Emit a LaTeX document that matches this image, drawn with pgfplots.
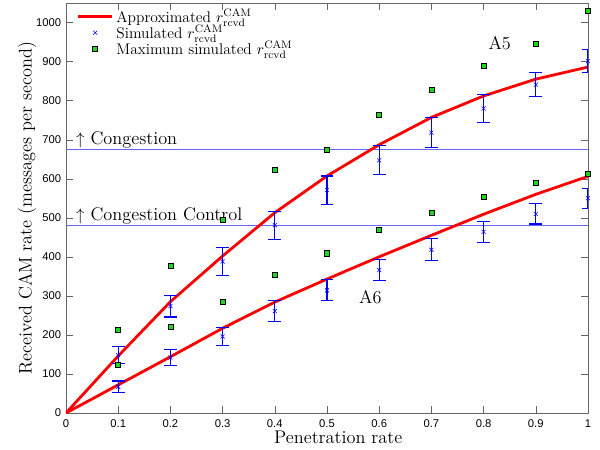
\documentclass[border=0pt]{standalone}
\usepackage{fontspec}
\setsansfont{Liberation Sans}
\usepackage{pgfplots}
\pgfplotsset{compat=1.18}
\usepackage{pgfplotstable}

\definecolor{redline}{rgb}{1,0,0}
\definecolor{markgreen}{rgb}{0.1,0.85,0.1}
\definecolor{congblue}{rgb}{0.4,0.4,1}

\pgfplotsset{
  longline/.style={legend image code/.code={\draw[##1] (0cm,0cm) -- (0.85cm,0cm);}},
  longmark/.style={legend image code/.code={\draw[mark repeat=2, mark phase=2, ##1]
      plot coordinates {(0cm,0cm) (0.425cm,0cm) (0.85cm,0cm)};}},
}

% simulated rates: x, mean, half error bar
\pgfplotstableread{
x y e
0.1 148 22
0.2 274 28
0.3 388 35
0.4 481 36
0.5 571 36
0.6 647 37
0.7 718 38
0.8 780 36
0.9 841 31
1.0 901 30
}\simA
\pgfplotstableread{
x y e
0.1 67 15
0.2 142 21
0.3 196 23
0.4 261 26
0.5 314 27
0.6 366 26
0.7 418 28
0.8 464 27
0.9 510 26
1.0 550 26
}\simB

% threshold levels
\pgfplotstableread{
x cong ctrl
0 675 480
1 675 480
}\thresh

\begin{document}
\begin{tikzpicture}
\begin{axis}[
    scale only axis,
    width=13.05cm, height=10.25cm,
    xmin=0, xmax=1, ymin=0, ymax=1050,
    xtick={0,0.1,0.2,0.3,0.4,0.5,0.6,0.7,0.8,0.9,1},
    xticklabels={0,0.1,0.2,0.3,0.4,0.5,0.6,0.7,0.8,0.9,1},
    ytick={0,100,...,1000},
    tick align=inside,
    major tick length=5pt,
    axis line style={gray!80!black},
    tick style={gray!80!black},
    /pgf/number format/assume math mode=true,
    /pgf/number format/1000 sep={},
    tick label style={font=\sffamily\fontsize{8}{9}\selectfont},
    xticklabel style={yshift=-1pt},
    xlabel={Penetration rate},
    ylabel={Received CAM rate (messages per second)},
    label style={font=\fontsize{13}{15}\selectfont},
    xlabel style={yshift=4pt, xshift=8pt},
    ylabel style={yshift=-7pt},
    legend style={at={(0.012,1.0)}, anchor=north west, draw=none, fill=none,
        font=\fontsize{11}{12}\selectfont, row sep=-3.5pt},
    legend cell align={left},
]

\addlegendimage{redline, line width=2pt, longline}
\addlegendentry{Approximated $r^{\mathrm{CAM}}_{\mathrm{rcvd}}$}
\addlegendimage{only marks, mark=x, blue, mark size=2pt, longmark}
\addlegendentry{Simulated $r^{\mathrm{CAM}}_{\mathrm{rcvd}}$}
\addlegendimage{only marks, mark=square*, mark size=1.8pt, draw=black, fill=markgreen, longmark}
\addlegendentry{Maximum simulated $r^{\mathrm{CAM}}_{\mathrm{rcvd}}$}

% thresholds
\addplot[congblue, line width=0.8pt, forget plot] table[x=x, y=cong] {\thresh};
\addplot[congblue, line width=0.8pt, forget plot] table[x=x, y=ctrl] {\thresh};

% approximated A5
\addplot[redline, line width=2pt, forget plot] coordinates {
    (0,0) (0.1,146) (0.2,285) (0.3,402) (0.4,513) (0.5,607)
    (0.6,687) (0.7,757) (0.8,812) (0.9,855) (1.0,886)
};
% approximated A6
\addplot[redline, line width=2pt, forget plot] coordinates {
    (0,0) (0.1,72) (0.2,144) (0.3,217) (0.4,284) (0.5,343)
    (0.6,400) (0.7,455) (0.8,509) (0.9,560) (1.0,606)
};

% simulated with error bars
\addplot[blue, only marks, mark=x, mark size=2pt, forget plot,
    error bars/.cd, y dir=both, y explicit,
    error bar style={blue, line width=0.8pt},
    error mark options={rotate=90, mark size=4.5pt, blue, line width=0.8pt}]
    table[x=x, y=y, y error=e] {\simA};
\addplot[blue, only marks, mark=x, mark size=2pt, forget plot,
    error bars/.cd, y dir=both, y explicit,
    error bar style={blue, line width=0.8pt},
    error mark options={rotate=90, mark size=4.5pt, blue, line width=0.8pt}]
    table[x=x, y=y, y error=e] {\simB};

% maximum simulated
\addplot[only marks, mark=square*, mark size=1.8pt, draw=black, fill=markgreen, forget plot]
    coordinates {
    (0.1,212) (0.2,377) (0.3,496) (0.4,622) (0.5,673)
    (0.6,764) (0.7,827) (0.8,889) (0.9,946) (1.0,1031)
};
\addplot[only marks, mark=square*, mark size=1.8pt, draw=black, fill=markgreen, forget plot]
    coordinates {
    (0.1,123) (0.2,221) (0.3,285) (0.4,353) (0.5,409)
    (0.6,469) (0.7,512) (0.8,553) (0.9,590) (1.0,612)
};

\node[anchor=base west, font=\fontsize{13}{15}\selectfont] at (axis cs:0.01,688) {$\uparrow$ Congestion};
\node[anchor=base west, font=\fontsize{13}{15}\selectfont] at (axis cs:0.01,492) {$\uparrow$ Congestion Control};
\node[anchor=base west, font=\fontsize{13}{15}\selectfont] at (axis cs:0.80,931) {A5};
\node[anchor=base west, font=\fontsize{13}{15}\selectfont] at (axis cs:0.552,281) {A6};

\end{axis}
\pgfresetboundingbox
\path ([shift={(-1.65cm,-0.925cm)}]current axis.south west)
    rectangle ([shift={(0.3cm,0.075cm)}]current axis.north east);
\end{tikzpicture}
\end{document}
